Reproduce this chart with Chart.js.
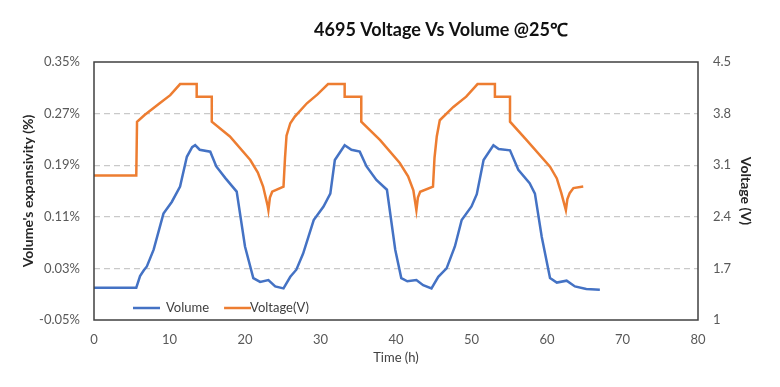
<!DOCTYPE html>
<html>
<head>
<meta charset="utf-8">
<script src="https://cdn.jsdelivr.net/npm/chart.js@4"></script>
<style>
  html, body { margin: 0; padding: 0; background: #fff; }
</style>
</head>
<body>
<canvas id="voltVolChart" width="780" height="387"></canvas>
<script>
// Volume expansion (%) vs time (h)
const volumeTime = [0, 5.6, 6.1, 6.6, 7.0, 7.9, 9.2, 10.3, 11.4, 12.3, 13.0, 13.4, 14.0, 15.4, 16.2, 17.4, 18.9, 20.0, 21.1, 22.0, 23.1, 24.0, 25.1,
  26.0, 26.8, 27.7, 29.1, 30.4, 31.3, 31.9, 33.2, 34.1, 35.2, 36.1, 37.4, 38.8, 39.9, 40.7, 41.5, 42.7, 43.6, 44.7,
  45.6, 46.7, 47.8, 48.7, 50.0, 50.7, 51.6, 52.9, 53.6, 55.1, 56.2, 57.7, 58.4, 59.3, 60.4, 61.3, 62.6, 63.7, 65.2, 67.0];
const volumeValues = [0.0, 0.0, 0.018, 0.027, 0.033, 0.059, 0.115, 0.133, 0.157, 0.203, 0.218, 0.221, 0.214, 0.211, 0.188, 0.170, 0.149, 0.064, 0.015, 0.009, 0.012, 0.002, -0.001,
  0.017, 0.028, 0.053, 0.105, 0.126, 0.146, 0.198, 0.221, 0.214, 0.211, 0.188, 0.167, 0.152, 0.059, 0.015, 0.010, 0.012, 0.004, -0.001,
  0.017, 0.030, 0.064, 0.105, 0.126, 0.145, 0.198, 0.221, 0.215, 0.213, 0.183, 0.162, 0.146, 0.079, 0.015, 0.008, 0.011, 0.002, -0.002, -0.003];

// Voltage (V) vs time (h)
const voltageTime = [0, 5.6, 5.7, 6.7, 8.7, 10.1, 11.4, 13.6, 13.6, 15.6, 15.6, 18.0, 20.7, 21.7, 22.4, 23.0, 23.1, 23.3, 23.6, 25.1,
  25.3, 25.5, 26.0, 26.6, 28.2, 29.6, 31.0, 33.2, 33.2, 35.4, 35.4, 37.9, 40.5, 41.6, 42.3, 42.7, 42.9, 43.2, 44.9,
  45.1, 45.4, 45.8, 47.6, 49.3, 50.8, 53.1, 53.1, 55.1, 55.1, 57.3, 60.4, 61.3, 61.9, 62.5, 62.7, 63.0, 63.5, 64.8];
const voltageValues = [2.96, 2.96, 3.69, 3.78, 3.94, 4.05, 4.20, 4.20, 4.03, 4.03, 3.69, 3.49, 3.17, 3.00, 2.81, 2.55, 2.49, 2.66, 2.74, 2.81,
  3.20, 3.50, 3.67, 3.76, 3.94, 4.06, 4.20, 4.20, 4.03, 4.03, 3.69, 3.44, 3.13, 2.95, 2.76, 2.49, 2.66, 2.74, 2.81,
  3.20, 3.49, 3.71, 3.89, 4.03, 4.20, 4.20, 4.03, 4.03, 3.69, 3.44, 3.08, 2.92, 2.72, 2.49, 2.64, 2.72, 2.79, 2.81];

const volumeTicks = [-0.05, 0.03, 0.11, 0.19, 0.27, 0.35];
const voltageTicks = [1, 1.7, 2.4, 3.1, 3.8, 4.5];
const timeTicks = [0, 10, 20, 30, 40, 50, 60, 70, 80];

const FONT = 'Lato, "Open Sans", sans-serif';
const BLUE = '#4472C4';
const ORANGE = '#ED7D31';

const toPoints = (xs, ys) => xs.map((x, i) => ({ x: x, y: ys[i] }));

// title, frame and in-plot legend
const decorPlugin = {
    id: 'decor',
    afterDraw(chart) {
        const { ctx, chartArea: a } = chart;
        ctx.save();
        ctx.strokeStyle = '#404040';
        ctx.lineWidth = 1.5;
        ctx.strokeRect(a.left, a.top, a.right - a.left, a.bottom - a.top);

        ctx.fillStyle = '#111';
        ctx.font = 'bold 18px ' + FONT;
        ctx.textAlign = 'center';
        ctx.textBaseline = 'middle';
        ctx.fillText('4695 Voltage Vs Volume @25℃', 441, 30);

        ctx.font = '13px ' + FONT;
        ctx.textAlign = 'left';
        ctx.fillStyle = '#404040';
        const ly = a.bottom - 12;
        let lx = a.left + 39;
        chart.data.datasets.forEach(ds => {
            ctx.strokeStyle = ds.borderColor;
            ctx.lineWidth = 2.5;
            ctx.beginPath();
            ctx.moveTo(lx, ly);
            ctx.lineTo(lx + 27, ly);
            ctx.stroke();
            const tx = lx + (ds.yAxisID === 'y' ? 33 : 26);
            ctx.fillText(ds.label, tx, ly);
            lx = tx + ctx.measureText(ds.label).width + 15;
        });
        ctx.restore();
    }
};

const tickFont = { family: FONT, size: 13 };
const titleFont = { family: FONT, size: 14, weight: 'bold' };

new Chart(document.getElementById('voltVolChart').getContext('2d'), {
    type: 'line',
    data: {
        datasets: [{
            label: 'Volume',
            data: toPoints(volumeTime, volumeValues),
            borderColor: BLUE,
            borderWidth: 2.5,
            pointRadius: 0,
            tension: 0,
            yAxisID: 'y'
        }, {
            label: 'Voltage(V)',
            data: toPoints(voltageTime, voltageValues),
            borderColor: ORANGE,
            borderWidth: 2.5,
            pointRadius: 0,
            tension: 0,
            yAxisID: 'y2'
        }]
    },
    options: {
        responsive: false,
        animation: false,
        layout: { padding: { top: 62, left: 0, right: 0, bottom: 0 } },
        plugins: {
            legend: { display: false },
            title: { display: false },
            tooltip: { enabled: false }
        },
        scales: {
            x: {
                type: 'linear',
                min: 0,
                max: 80,
                afterBuildTicks: s => { s.ticks = timeTicks.map(v => ({ value: v })); },
                afterFit: s => { s.height = 67; },
                grid: { display: false, drawTicks: false },
                border: { display: false },
                ticks: { font: tickFont, color: '#595959', padding: 12, maxRotation: 0 },
                title: { display: true, text: 'Time (h)', font: { family: FONT, size: 13 }, color: '#404040', padding: { top: 0, bottom: 21 } }
            },
            y: {
                position: 'left',
                min: -0.05,
                max: 0.35,
                afterBuildTicks: s => { s.ticks = volumeTicks.map(v => ({ value: v })); },
                afterFit: s => { s.width = 94; },
                grid: {
                    drawTicks: false,
                    lineWidth: 1.2,
                    color: c => (c.index === 0 || c.index === volumeTicks.length - 1) ? 'rgba(0,0,0,0)' : '#c9c9c9'
                },
                border: { display: false, dash: [6, 4] },
                ticks: { font: tickFont, color: '#595959', padding: 14, callback: v => v.toFixed(2) + '%' },
                title: { display: true, text: "Volume's expansivity (%)", font: titleFont, color: '#262626', padding: { top: 20, bottom: 0 } }
            },
            y2: {
                position: 'right',
                min: 1,
                max: 4.5,
                afterBuildTicks: s => { s.ticks = voltageTicks.map(v => ({ value: v })); },
                afterFit: s => { s.width = 82; },
                grid: { display: false, drawTicks: false },
                border: { display: false },
                ticks: { font: tickFont, color: '#595959', padding: 15, callback: v => String(Number(v.toFixed(1))) },
                title: { display: true, text: 'Voltage (V)', font: titleFont, color: '#262626', padding: { top: 26, bottom: 0 } }
            }
        }
    },
    plugins: [decorPlugin]
});
</script>
</body>
</html>
